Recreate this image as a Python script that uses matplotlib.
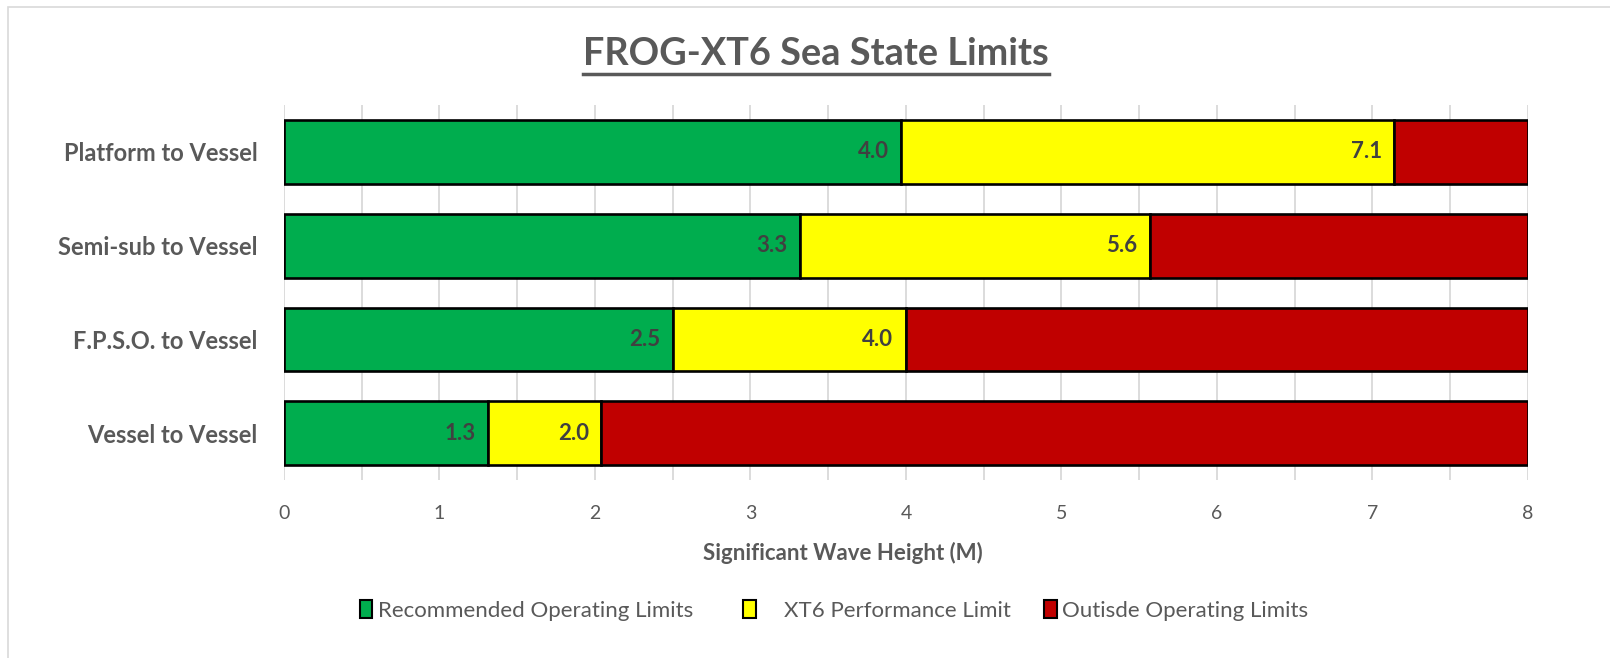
import matplotlib.pyplot as plt
from matplotlib.patches import Rectangle, Patch
from matplotlib.lines import Line2D

categories = ['Platform to Vessel', 'Semi-sub to Vessel', 'F.P.S.O. to Vessel', 'Vessel to Vessel']
recommended = [3.97, 3.32, 2.50, 1.31]
performance = [7.14, 5.57, 4.00, 2.04]
axis_max = 8
series_names = ['Recommended Operating Limits   ', '    XT6 Performance Limit', 'Outisde Operating Limits']
colors = ['#00AD4E', '#FFFF00', '#C00000']

plt.rcParams['font.family'] = ['Lato', 'DejaVu Sans']
text_gray = '#595959'

fig = plt.figure(figsize=(16.1, 6.58), dpi=100)
ax = fig.add_axes([0.1764, 0.2705, 0.7726, 0.5699])

y = list(range(len(categories)))
yellow_w = [p - r for r, p in zip(recommended, performance)]
red_w = [axis_max - p for p in performance]
kw = dict(height=0.68, edgecolor='black', linewidth=1.9, zorder=3)
ax.barh(y, recommended, color=colors[0], **kw)
ax.barh(y, yellow_w, left=recommended, color=colors[1], **kw)
ax.barh(y, red_w, left=performance, color=colors[2], **kw)

for yi, r, p in zip(y, recommended, performance):
    for v in (r, p):
        ax.annotate(f'{v:.1f}', (v, yi), xytext=(-9, 0), textcoords='offset points',
                    ha='right', va='center', fontsize=16, fontweight='bold',
                    color='#404040', zorder=4)

ax.set_xlim(0, axis_max)
ax.set_ylim(len(categories) - 0.5, -0.5)
ax.set_yticks(y)
ax.set_yticklabels(categories, fontsize=17, fontweight='bold', color=text_gray)
ax.set_xticks(range(0, axis_max + 1))
ax.set_xticks([i + 0.5 for i in range(axis_max)], minor=True)
ax.tick_params(axis='x', labelsize=14, colors=text_gray, length=0, which='both', pad=18)
ax.tick_params(axis='y', length=0, pad=19)
ax.grid(axis='x', which='both', color='#D9D9D9', linewidth=1.3, zorder=0)
for s in ax.spines.values():
    s.set_visible(False)
ax.set_xlabel('Significant Wave Height (M)', fontsize=16, fontweight='bold', color=text_gray)
ax.xaxis.set_label_coords(0.449, -0.165)

handles = [Patch(facecolor=c, edgecolor='black', linewidth=1.5) for c in colors]
leg = fig.legend(handles, series_names, loc='center', bbox_to_anchor=(0.518, 0.072),
                 ncol=3, frameon=False, fontsize=16, handlelength=0.55, handleheight=0.85,
                 handletextpad=0.25, columnspacing=1.5)
for t in leg.get_texts():
    t.set_color(text_gray)

title = fig.text(0.507, 0.918, 'FROG-XT6 Sea State Limits', ha='center', va='center',
                 fontsize=27.3, fontweight='bold', color=text_gray)

# outer chart border
fig.add_artist(Rectangle((0.005, -0.01), 1.2, 1.0, transform=fig.transFigure,
                         fill=False, edgecolor='#D9D9D9', linewidth=1.2))

# underline under the title
fig.canvas.draw()
bb = title.get_window_extent().transformed(fig.transFigure.inverted())
fig.add_artist(Line2D([bb.x0, bb.x1], [bb.y0 - 0.004, bb.y0 - 0.004],
                      transform=fig.transFigure, color=text_gray, linewidth=2.5))

fig.savefig('out.png', dpi=100)
